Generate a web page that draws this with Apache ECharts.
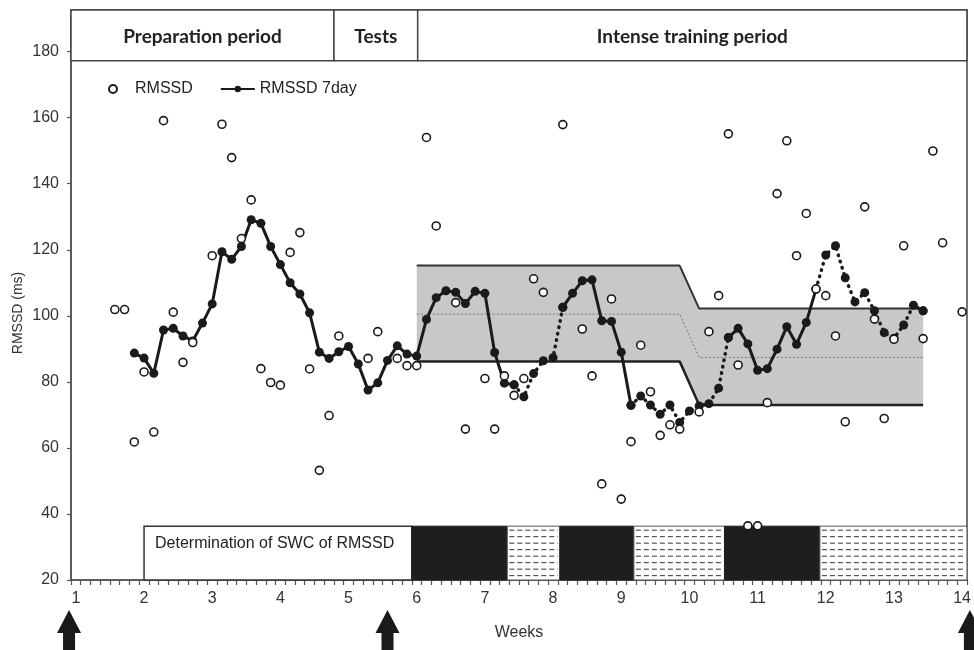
<!DOCTYPE html>
<html><head><meta charset="utf-8">
<script src="https://cdn.jsdelivr.net/npm/echarts@6/dist/echarts.min.js"></script>
<style>html,body{margin:0;padding:0;background:#fff}#c{width:974px;height:650px}</style>
</head><body><div id="c"></div>
<script>
// x = day index (day 0 = first day of week 1); week label = day/7 + 1
const rmssd = [
  null,null,null,null,101.9,101.9,61.8,        // week 1
  83.0,64.8,159.1,101.1,85.9,91.9,null,        // week 2
  118.2,158.0,147.9,123.4,135.1,84.0,79.8,     // week 3
  79.0,119.2,125.2,83.9,53.2,69.8,93.9,        // week 4
  null,null,87.1,95.2,null,87.1,84.9,          // week 5
  84.9,154.0,127.2,null,104.0,65.7,null,       // week 6
  81.0,65.7,81.8,75.9,81.0,111.2,107.1,        // week 7
  null,157.9,null,96.0,81.8,49.1,105.1,        // week 8
  44.5,61.9,91.1,77.0,63.8,67.0,65.7,          // week 9
  null,70.9,95.2,106.1,155.1,85.1,36.4,        // week 10
  36.4,73.7,137.0,153.0,118.2,131.0,108.1,     // week 11
  106.1,93.9,67.9,null,133.0,99.0,68.9,        // week 12
  92.9,121.2,null,93.1,149.9,122.1,null,       // week 13
  101.2                                        // week 14
];
const rmssd7 = [
  null,null,null,null,null,null,88.7,
  87.2,82.6,95.7,96.2,93.9,92.4,97.8,
  103.6,119.4,117.1,121.0,129.1,128.0,121.0,
  115.5,110.0,106.6,100.9,89.0,87.1,89.1,
  90.7,85.4,77.5,79.7,86.5,90.9,88.4,
  87.8,98.9,105.5,107.6,107.1,103.7,107.4,
  106.8,88.9,79.6,79.1,75.5,82.5,86.4,
  87.3,102.6,106.8,110.6,110.9,98.5,98.3,
  89.0,72.9,75.7,73.0,70.2,73.0,67.7,
  71.2,72.7,73.4,78.1,93.4,96.2,91.5,
  83.5,84.0,89.9,96.7,91.4,98.0,108.1,
  118.4,121.2,111.5,104.2,107.0,101.5,94.9,
  93.2,97.2,103.2,101.5,null,null,null,
  null
];
const dottedSpans = [[45,50],[57,67],[76,87]];   // 7-day segments drawn dotted

const swcDays  = [35, 62, 64, 87];
const swcUpper = [115.2, 115.2, 102.2, 102.2];
const swcMean  = [100.5, 100.5, 87.4, 87.4];
const swcLower = [86.2, 86.2, 73.0, 73.0];

const headerSpans  = [[-0.5, 26.5], [26.5, 35.1], [35.1, 91.5]];
const headerLabels = ['Preparation period', 'Tests', 'Intense training period'];
const headerRange  = [177.2, 192.6];

const blockSpans = [[7.0,34.5],[34.5,44.3],[44.3,49.7],[49.7,57.3],[57.3,66.6],[66.6,76.4],[76.4,91.5]];
const blockKinds = ['label','black','dashed','black','dashed','black','dashed'];
const blockLabel = 'Determination of SWC of RMSSD';
const blockRange = [20, 36.3];

const arrowDays = [-0.7, 32.0, 91.8];

const weekLabelDays = Array.from({length: 14}, (_, k) => k * 7);
const dayTickValues = Array.from({length: 93}, (_, k) => k - 0.5);
const yTickValues = [20, 40, 60, 80, 100, 120, 140, 160, 180];

const FONT = '"Liberation Sans", Arial, sans-serif';

const inDotted = i => dottedSpans.some(([a, b]) => i > a && i < b);
const inAnyDotted = i => dottedSpans.some(([a, b]) => i >= a && i <= b);

const scatterData = rmssd.map((v, i) => v == null ? null : [i, v]).filter(Boolean);
const solidData = rmssd7.map((v, i) => [i, (v == null || inDotted(i)) ? '-' : v]);
const dottedData = rmssd7.map((v, i) => [i, (v == null || !inAnyDotted(i)) ? '-' : v]);

const chart = echarts.init(document.getElementById('c'), null, {renderer: 'canvas'});

chart.setOption({
  animation: false,
  backgroundColor: '#fff',
  grid: {left: 71, right: 6.5, top: 10, bottom: 70, show: true, borderColor: '#444', borderWidth: 1.5, backgroundColor: 'transparent'},
  legend: {
    left: 103, top: 76, itemWidth: 34, itemHeight: 8, itemGap: 27,
    textStyle: {fontFamily: FONT, fontSize: 16, color: '#222'},
    data: ['RMSSD', 'RMSSD 7day']
  },
  xAxis: {
    type: 'value', min: -0.5, max: 91.5,
    axisLine: {show: true, onZero: false, lineStyle: {color: '#555', width: 1.5}},
    axisTick: {show: true, length: 5, customValues: dayTickValues, lineStyle: {color: '#555', width: 1.2}},
    axisLabel: {customValues: weekLabelDays, formatter: v => String(Math.round(v / 7 + 1)), fontFamily: FONT, fontSize: 16, color: '#333', margin: 11},
    splitLine: {show: false},
    name: 'Weeks', nameLocation: 'middle', nameGap: 45,
    nameTextStyle: {fontFamily: FONT, fontSize: 16, color: '#333'}
  },
  yAxis: {
    type: 'value', min: 20, max: 192.6,
    axisLine: {show: true, onZero: false, lineStyle: {color: '#555', width: 1.5}},
    axisTick: {show: true, length: 4, customValues: yTickValues, lineStyle: {color: '#555', width: 1.2}},
    axisLabel: {customValues: yTickValues, fontFamily: FONT, fontSize: 16, color: '#333', margin: 12},
    splitLine: {show: false}
  },
  graphic: [{
    type: 'text', x: 18, y: 313, rotation: Math.PI / 2,
    style: {text: 'RMSSD (ms)', font: '14px ' + FONT, fill: '#333', align: 'center', verticalAlign: 'middle'}
  }],
  series: [
    { // header boxes
      type: 'custom', name: 'header', silent: true, z: 1,
      data: headerSpans.map(s => [s[0], s[1]]),
      renderItem: (params, api) => {
        const p0 = api.coord([api.value(0), headerRange[1]]);
        const p1 = api.coord([api.value(1), headerRange[0]]);
        return {type: 'group', children: [
          {type: 'rect', shape: {x: p0[0], y: p0[1], width: p1[0] - p0[0], height: p1[1] - p0[1]},
           style: {fill: '#fff', stroke: '#444', lineWidth: 1.5}},
          {type: 'text', style: {text: headerLabels[params.dataIndex], x: (p0[0] + p1[0]) / 2, y: (p0[1] + p1[1]) / 2 + 1,
            align: 'center', verticalAlign: 'middle', font: 'bold 19px Lato, "Open Sans", sans-serif', fill: '#222'}}
        ]};
      }
    },
    { // bottom period blocks
      type: 'custom', name: 'blocks', silent: true, z: 1,
      data: blockSpans.map(s => [s[0], s[1]]),
      renderItem: (params, api) => {
        const p0 = api.coord([api.value(0), blockRange[1]]);
        const p1 = api.coord([api.value(1), blockRange[0]]);
        const w = p1[0] - p0[0], h = p1[1] - p0[1];
        const kind = blockKinds[params.dataIndex];
        const children = [];
        if (kind === 'black') {
          children.push({type: 'rect', shape: {x: p0[0], y: p0[1], width: w, height: h}, style: {fill: '#1e1e1e', stroke: '#1e1e1e', lineWidth: 1}});
        } else if (kind === 'dashed') {
          children.push({type: 'rect', shape: {x: p0[0], y: p0[1], width: w, height: h}, style: {fill: '#fff', stroke: '#555', lineWidth: 1}});
          for (let yy = p0[1] + 4; yy < p1[1] - 2; yy += 6.5) {
            children.push({type: 'line', shape: {x1: p0[0] + 2, y1: yy, x2: p1[0] - 2, y2: yy},
              style: {stroke: '#333', lineWidth: 1, lineDash: [5, 3]}});
          }
        } else {
          children.push({type: 'rect', shape: {x: p0[0], y: p0[1], width: w, height: h}, style: {fill: '#fff', stroke: '#333', lineWidth: 1.5}});
          children.push({type: 'text', style: {text: blockLabel, x: p0[0] + 11, y: p0[1] + 17, align: 'left', verticalAlign: 'middle',
            font: '16px ' + FONT, fill: '#222'}});
        }
        return {type: 'group', children};
      }
    },
    { // SWC band fill
      type: 'custom', name: 'swc', silent: true, z: 2,
      data: [[swcDays[0], swcUpper[0]]],
      renderItem: (params, api) => {
        const pts = [];
        swcDays.forEach((d, i) => pts.push(api.coord([d, swcUpper[i]])));
        for (let i = swcDays.length - 1; i >= 0; i--) pts.push(api.coord([swcDays[i], swcLower[i]]));
        return {type: 'polygon', shape: {points: pts}, style: {fill: '#c8c8c8'}};
      }
    },
    {type: 'line', name: 'upper', silent: true, z: 3, symbol: 'none', data: swcDays.map((d, i) => [d, swcUpper[i]]),
     lineStyle: {color: '#333', width: 2}},
    {type: 'line', name: 'lower', silent: true, z: 3, symbol: 'none', data: swcDays.map((d, i) => [d, swcLower[i]]),
     lineStyle: {color: '#222', width: 2.5}},
    {type: 'line', name: 'mean', silent: true, z: 3, symbol: 'none', data: swcDays.map((d, i) => [d, swcMean[i]]),
     lineStyle: {color: '#777', width: 1, type: [2, 2]}},
    { // 7-day solid
      type: 'line', name: 'RMSSD 7day', z: 5, data: solidData, connectNulls: false,
      symbol: 'circle', symbolSize: 9, showSymbol: true,
      itemStyle: {color: '#1a1a1a'}, lineStyle: {color: '#1a1a1a', width: 3}
    },
    { // 7-day dotted
      type: 'line', name: 'RMSSD 7day', z: 5, data: dottedData, connectNulls: false,
      symbol: 'circle', symbolSize: 9, showSymbol: true,
      itemStyle: {color: '#1a1a1a'}, lineStyle: {color: '#1a1a1a', width: 3.5, type: [0.5, 6], cap: 'round'}
    },
    { // daily RMSSD
      type: 'scatter', name: 'RMSSD', z: 6, data: scatterData,
      symbol: 'circle', symbolSize: 8,
      itemStyle: {color: '#fff', borderColor: '#1a1a1a', borderWidth: 1.6, opacity: 1}
    },
    { // arrows below axis
      type: 'custom', name: 'arrows', silent: true, z: 7, clip: false,
      data: arrowDays.map(d => [d, 20]),
      renderItem: (params, api) => {
        const p = api.coord([api.value(0), api.value(1)]);
        const x = p[0], y = p[1];
        return {type: 'polygon', shape: {points: [
          [x, y + 30], [x + 12, y + 53], [x + 6, y + 53], [x + 6, y + 80],
          [x - 6, y + 80], [x - 6, y + 53], [x - 12, y + 53]
        ]}, style: {fill: '#1a1a1a'}};
      }
    }
  ]
});
</script>
</body></html>
